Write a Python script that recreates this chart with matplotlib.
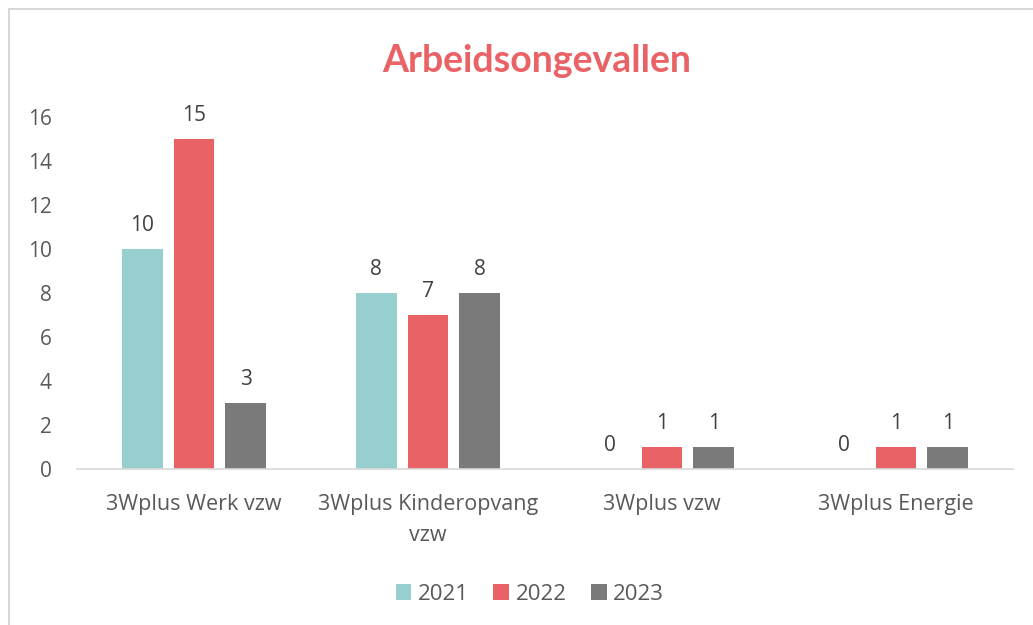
import matplotlib
matplotlib.use("Agg")
import matplotlib.pyplot as plt
import numpy as np
from matplotlib.patches import Rectangle

# data
categories = ["3Wplus Werk vzw", "3Wplus Kinderopvang\nvzw", "3Wplus vzw", "3Wplus Energie"]
years = ["2021", "2022", "2023"]
v2021 = [10, 8, 0, 0]
v2022 = [15, 7, 1, 1]
v2023 = [3, 8, 1, 1]
colors = ["#96CFCD", "#E96266", "#7A7A7A"]

txt = "#595959"
plt.rcParams['font.family'] = ['Open Sans', 'DejaVu Sans']

fig = plt.figure(figsize=(10.33, 6.25), dpi=100)
fig.patch.set_facecolor("white")

# chart frame
fig.add_artist(Rectangle((9/1033, -0.05), 1.1, 1 - 9/625 + 0.05, transform=fig.transFigure,
                         fill=False, edgecolor="#D0D0D0", linewidth=1.2))

ax = fig.add_axes([77/1033, 1 - 469/625, (1013 - 77)/1033, (469 - 117)/625])

x = np.arange(len(categories))
w = 0.175
step = 0.222
series = [v2021, v2022, v2023]
for i, (vals, c, yr) in enumerate(zip(series, colors, years)):
    pos = x + (i - 1) * step
    ax.bar(pos, vals, width=w, color=c, label=yr)
    for p, v in zip(pos, vals):
        ax.annotate(str(v), (p, v), xytext=(0, 9.5), textcoords="offset points",
                    ha="center", va="bottom", fontsize=15, color="#404040")

ax.set_xlim(-0.5, len(categories) - 0.5)
ax.set_ylim(0, 16)
ax.set_yticks(range(0, 17, 2))
ax.set_xticks(x)
ax.set_xticklabels(categories, fontsize=15.5, color=txt, linespacing=1.6)
ax.tick_params(axis="y", labelsize=15, labelcolor=txt, length=0, pad=18)
ax.tick_params(axis="x", length=0, pad=18)
for s in ["top", "right", "left"]:
    ax.spines[s].set_visible(False)
ax.spines["bottom"].set_color("#D9D9D9")
ax.spines["bottom"].set_linewidth(1.2)

fig.text(537/1033, 1 - 61/625, "Arbeidsongevallen", ha="center", va="center",
         fontsize=27, fontweight="bold", color="#E96266", family=["Lato", "DejaVu Sans"])

leg = fig.legend(loc="center", bbox_to_anchor=(530/1033, 1 - 594/625), ncol=3, frameon=False,
                 fontsize=16, handlelength=0.7, handleheight=0.7, handletextpad=0.3,
                 columnspacing=1.1)
for t in leg.get_texts():
    t.set_color(txt)

fig.savefig("out.png", dpi=100)
